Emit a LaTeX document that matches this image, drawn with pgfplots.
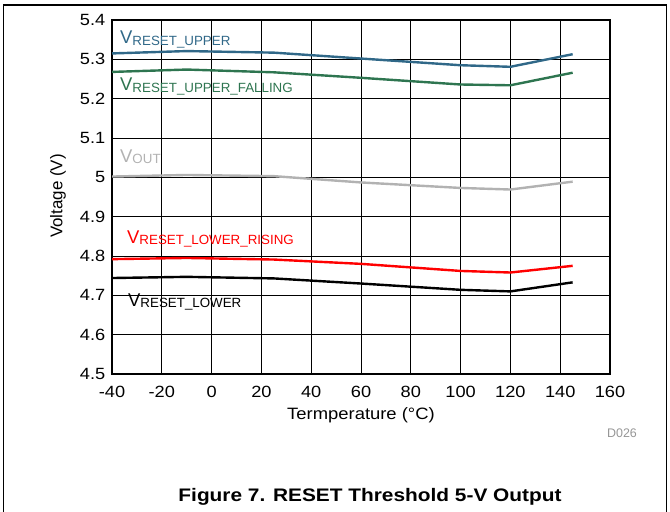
\documentclass[border=0pt]{standalone}
\usepackage{fontspec}
\setmainfont{Liberation Sans}
\usepackage{pgfplots}
\pgfplotsset{compat=1.18}

\definecolor{cupper}{RGB}{48,104,136}
\definecolor{cfall}{RGB}{46,117,80}
\definecolor{cout}{RGB}{178,178,178}
\definecolor{crise}{RGB}{255,0,0}
\definecolor{cnote}{RGB}{150,150,150}

% label: V with a lowered small subscript, base at image pixel (x,y)
\newcommand\vlabel[4]{%
  \node[anchor=base west, inner sep=0, text=#3] at (#1bp,{(512-#2)*1bp})
    {\fontsize{18.5}{20}\selectfont V\raisebox{-1.8bp}{\fontsize{13.4}{15}\selectfont #4}};}

\begin{document}
\begin{tikzpicture}
\useasboundingbox (0,0) rectangle (670bp,512bp);
\draw[line width=1.2bp] (3.5bp,0) -- (3.5bp,507bp) -- (666.5bp,507bp) -- (666.5bp,0);

\begin{axis}[
  at={(112bp,138bp)}, anchor=south west,
  width=498bp, height=354bp, scale only axis,
  xmin=-40, xmax=160, ymin=4.5, ymax=5.4,
  xtick={-40,-20,0,20,40,60,80,100,120,140,160},
  ytick={4.5,4.6,4.7,4.8,4.9,5,5.1,5.2,5.3,5.4},
  grid=major,
  major grid style={black, line width=0.7bp},
  axis line style={line width=2.6bp},
  major tick length=0pt,
  /pgf/number format/assume math mode=true,
  ticklabel style={font=\fontsize{16.3}{18}\selectfont, xscale=1.12},
  xticklabel style={yshift=-8.5bp},
  yticklabel style={xshift=-2.5bp},
  every axis plot/.append style={line width=2.4bp, mark=none},
]
\addplot[cupper] coordinates {
  (-40,5.315) (-10,5.321) (25,5.317) (60,5.302) (100,5.285) (120,5.281) (145,5.313)};
\addplot[cfall] coordinates {
  (-40,5.268) (-10,5.274) (25,5.267) (60,5.253) (100,5.236) (120,5.234) (145,5.266)};
\addplot[cout] coordinates {
  (-40,5.002) (-10,5.006) (25,5.003) (60,4.987) (100,4.973) (120,4.969) (145,4.989)};
\addplot[crise] coordinates {
  (-40,4.792) (-10,4.795) (25,4.791) (60,4.780) (100,4.762) (120,4.758) (145,4.775)};
\addplot[black] coordinates {
  (-40,4.744) (-10,4.747) (25,4.743) (60,4.730) (100,4.714) (120,4.710) (145,4.733)};
\end{axis}

\node[font=\fontsize{16.5}{18}\selectfont, xscale=1.12] at (361bp,97bp) {Termperature (\textdegree C)};
\node[font=\fontsize{17}{18}\selectfont, rotate=90] at (58bp,316bp) {Voltage (V)};

\vlabel{120}{44}{cupper}{RESET\_UPPER}
\vlabel{120}{91}{cfall}{RESET\_UPPER\_FALLING}
\vlabel{120}{162}{cout}{OUT}
\vlabel{127}{243}{crise}{RESET\_LOWER\_RISING}
\vlabel{128}{306}{black}{RESET\_LOWER}

\node[text=cnote, font=\fontsize{12.5}{14}\selectfont] at (622bp,78.5bp) {D026};
\node[font=\bfseries\fontsize{18.2}{20}\selectfont, xscale=1.15] at (370bp,15.5bp)
  {Figure 7. RESET Threshold 5-V Output};
\end{tikzpicture}
\end{document}
